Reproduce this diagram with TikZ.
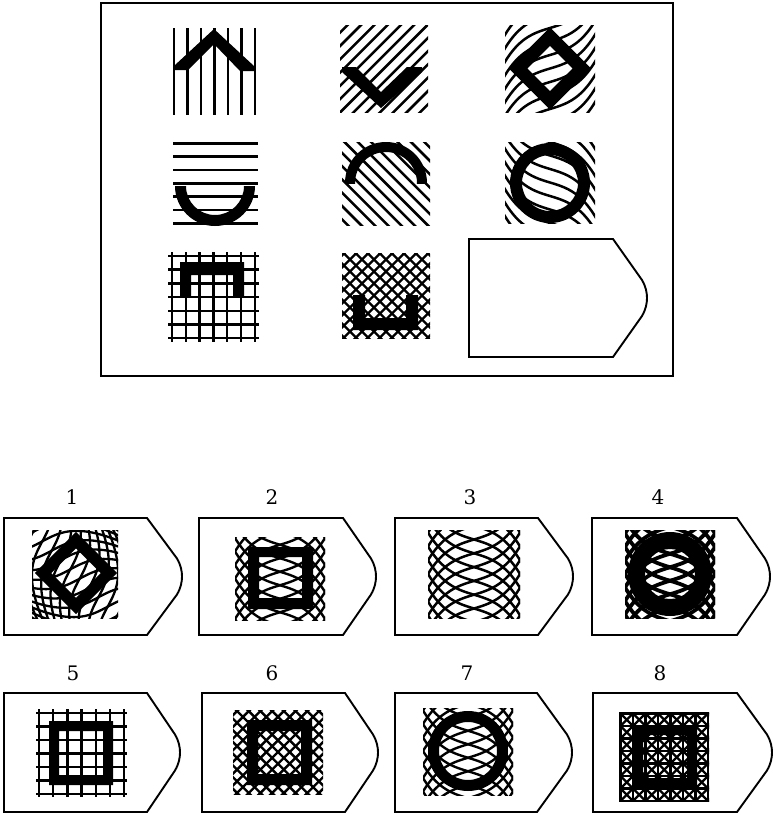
\documentclass[tikz,border=0pt]{standalone}
\usepackage{fontspec}
\newfontfamily\lblfont{DejaVu Serif}
\usetikzlibrary{calc}
\newcommand\lenspat[4]{%
  \foreach \c in {-3.15,-2.85,...,3.2}{%
    \draw[line width=#4] plot[domain=-1.5:1.5,samples=31,smooth] ({#1+#3*\x},{#2+#3*(\c+0.3*\x+0.45*\x*\x*\x)});
    \draw[line width=#4] plot[domain=-1.5:1.5,samples=31,smooth] ({#1+#3*\x},{#2+#3*(\c-0.3*\x-0.45*\x*\x*\x)});
  }}
\newcommand\wavyfam[4]{%
  \foreach \c in {-2.1,-1.8,...,2.2}{%
    \draw[hatch] plot[domain=-1.2:1.2,samples=31,smooth] ({#1+#3*\x},{#2+#3*(\c #4 (0.3*\x+0.45*\x*\x*\x))});
  }}
\newcommand\xhatch[4]{% cx cy spacing lw
  \foreach \i in {-9,...,9}{%
    \draw[line width=#4] ({#1+#3*\i-55},{#2-55}) -- ({#1+#3*\i+55},{#2+55});
    \draw[line width=#4] ({#1+#3*\i-55},{#2+55}) -- ({#1+#3*\i+55},{#2-55});
  }}
\newcommand\tagbox[5]{% x0 y0 x1 y1 xc
  \draw[frameline] (#1,#2) -- (#5,#2) -- ({#3-5},{(#2+#4)/2-18})
   .. controls ({#3-1},{(#2+#4)/2-11}) and (#3,{(#2+#4)/2-5}) .. (#3,{(#2+#4)/2})
   .. controls (#3,{(#2+#4)/2+5}) and ({#3-1},{(#2+#4)/2+11}) .. ({#3-5},{(#2+#4)/2+18})
   -- (#5,#4) -- (#1,#4) -- cycle;}
\begin{document}
\begin{tikzpicture}[x=1pt,y=-1pt,line join=miter,
  frameline/.style={line width=1.9pt},
  hatch/.style={line width=2.5pt},
  lbl/.style={font=\lblfont\fontsize{20}{22}\selectfont, inner sep=0pt}]
\useasboundingbox (0,0) rectangle (773,815);
\fill[white] (0,0) rectangle (773,815);

% ---------- main frame ----------
\draw[frameline] (101,3) rectangle (673,376);

% R1C1: vertical lines + chevron
\foreach \i in {0,...,6} \draw[hatch] ({174+13.5*\i},28) -- ({174+13.5*\i},115);
\fill (175,65) -- (214,29) -- (254,66) -- (254,71) -- (240,71) -- (214,44) -- (188,70) -- (175,70) -- cycle;

% R1C2: / lines + V
\begin{scope}
\clip (340,25) rectangle (428,112);
\foreach \i in {-9,...,9} \draw[hatch] ({384+13.3*\i-55},{68.5+55}) -- ({384+13.3*\i+55},{68.5-55});
\end{scope}
\fill (342,67) -- (356,67) -- (381,92) -- (407,67) -- (422,67) -- (422,72) -- (381,108) -- (342,72) -- cycle;

% R1C3: wavy rising + diamond
\begin{scope}
\clip (505,25) rectangle (595,112);
\wavyfam{550}{68.5}{45}{-}
\end{scope}
\fill[even odd rule, rotate around={45:(550,68.5)}] (521,39.5) rectangle (579,97.5) (534,52.5) rectangle (566,84.5);

% R2C1: horizontal lines + bowl
\foreach \i in {0,...,6} \draw[hatch] (173,{143.3+13.33*\i}) -- (258,{143.3+13.33*\i});
\begin{scope}
\clip (170,186) rectangle (260,232);
\fill[even odd rule] (215,186) circle[radius=40] (215,186) circle[radius=29];
\end{scope}

% R2C2: \ lines + arch
\begin{scope}
\clip (342,142) rectangle (430,225);
\foreach \i in {-9,...,9} \draw[hatch] ({386+13.3*\i-55},{183.5-55}) -- ({386+13.3*\i+55},{183.5+55});
\end{scope}
\begin{scope}
\clip (340,138) rectangle (432,183);
\fill[even odd rule] (386,183) circle[radius=41] (386,183) circle[radius=31];
\end{scope}

% R2C3: wavy falling + ring
\begin{scope}
\clip (505,142) rectangle (595,223);
\wavyfam{550}{182.5}{45}{+}
\end{scope}
\fill[even odd rule] (550,183) circle[radius=40] (550,183) circle[radius=28];

% R3C1: grid + bracket
\foreach \i in {0,...,6} {
  \draw[hatch] ({172+13.8*\i},252) -- ({172+13.8*\i},342);
  \draw[hatch] (168,{256+13.7*\i}) -- (259,{256+13.7*\i});
}
\fill (180,262) -- (244,262) -- (244,297) -- (233,297) -- (233,275) -- (191,275) -- (191,297) -- (180,297) -- cycle;

% R3C2: crosshatch + U
\begin{scope}
\clip (342,253) rectangle (430,338);
\xhatch{386}{295.5}{12}{2.3pt}
\end{scope}
\fill (353,295) -- (365,295) -- (365,318) -- (406,318) -- (406,295) -- (418,295) -- (418,330) -- (353,330) -- cycle;

% R3C3: blank
\draw[frameline] (469,239) -- (613,239) -- (642,280) .. controls (646,287) and (647,293) .. (647,298)
  .. controls (647,303) and (646,309) .. (642,316) -- (613,357) -- (469,357) -- cycle;

% ---------- answers ----------
\node[lbl] (l1) at (72,497) {1};
\node[lbl] (l2) at (272,497) {2};
\node[lbl] (l3) at (470,497) {3};
\node[lbl] (l4) at (658,497) {4};
\node[lbl] (l5) at (73,673) {5};
\node[lbl] (l6) at (272,673) {6};
\node[lbl] (l7) at (467,673) {7};
\node[lbl] (l8) at (660,673) {8};

\tagbox{4}{518}{182}{635}{147}
\tagbox{199}{518}{376}{635}{343}
\tagbox{395}{518}{573}{635}{538}
\tagbox{592}{518}{770}{635}{737}
\tagbox{4}{693}{180}{812}{147}
\tagbox{202}{693}{378}{812}{345}
\tagbox{395}{693}{572}{812}{537}
\tagbox{593}{693}{772}{812}{737}

% option 1
\begin{scope}
\clip (32,530) rectangle (118,618);
\begin{scope}[rotate around={45:(75,574)}]
\lenspat{75}{574}{44}{2.3pt}
\end{scope}
\end{scope}
\fill[even odd rule, rotate around={45:(76,573)}] (47,544) rectangle (105,602) (58.5,555.5) rectangle (93.5,590.5);

% option 2
\begin{scope}
\clip (235,537) rectangle (325,620);
\lenspat{280}{578.5}{45}{2.4pt}
\end{scope}
\fill[even odd rule] (248,547) rectangle (313,609) (259,557) rectangle (302,598);

% option 3
\begin{scope}
\clip (428,530) rectangle (520,618);
\lenspat{474}{574}{46}{2.5pt}
\end{scope}

% option 4
\begin{scope}
\clip (625,530) rectangle (715,618);
\lenspat{670}{574}{45}{3.8pt}
\end{scope}
\fill[even odd rule] (670,574) circle[radius=42] (670,574) circle[radius=25];

% option 5
\foreach \i in {0,...,6} {
  \draw[hatch] ({39+14.2*\i},709) -- ({39+14.2*\i},797);
  \draw[hatch] (36,{713+13.5*\i}) -- (127,{713+13.5*\i});
}
\fill[even odd rule] (49,721) rectangle (113,785) (59,731) rectangle (103,775);

% option 6
\begin{scope}
\clip (233,710) rectangle (323,794);
\xhatch{278}{752}{11.7}{2.4pt}
\end{scope}
\fill[even odd rule] (247,720) rectangle (312,785) (258,731) rectangle (301,774);

% option 7
\begin{scope}
\clip (423,708) rectangle (513,795);
\lenspat{468}{751}{45}{2.4pt}
\end{scope}
\fill[even odd rule] (468,751) circle[radius=40] (468,751) circle[radius=29];

% option 8
\begin{scope}
\clip (619,712) rectangle (709,801);
\foreach \i in {0,...,7} {
  \draw[line width=2.6pt] ({620.5+12.5*\i},712) -- ({620.5+12.5*\i},801);
  \draw[line width=2.6pt] (619,{713.5+12.5*\i}) -- (709,{713.5+12.5*\i});
}
\xhatch{664.25}{757.25}{12.5}{2.4pt}
\end{scope}
\fill[even odd rule] (632,725) rectangle (697,789) (643,735) rectangle (687,778);
\end{tikzpicture}
\end{document}
